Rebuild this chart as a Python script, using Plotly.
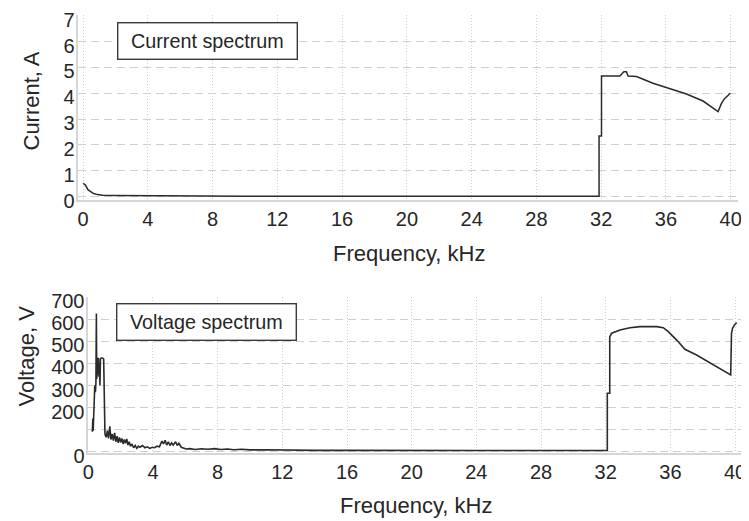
import plotly.graph_objects as go

W, H = 749, 521
OX, OY = 8, 8          # the page body adds an 8px margin
FW, FH = W - OX, H - OY

# ---- data ----
cur_freq = [0.0, 0.15, 0.3, 0.5, 0.65, 0.9, 1.2, 2.0, 3.0, 4.0, 5.0, 6.0, 7.0, 8.0, 10.0, 15.0, 20.0, 25.0,
            31.87, 31.87, 32.02, 32.02, 33.15, 33.4, 33.56, 33.66, 34.18, 35.2, 36.23, 37.27, 38.29, 38.91,
            39.22, 39.43, 39.63, 39.98]
cur_vals = [0.52, 0.45, 0.27, 0.17, 0.12, 0.08, 0.06, 0.05, 0.045, 0.04, 0.035, 0.04, 0.03, 0.025, 0.02, 0.02,
            0.02, 0.02, 0.02, 2.35, 2.35, 4.67, 4.67, 4.83, 4.83, 4.67, 4.65, 4.39, 4.19, 3.97, 3.70, 3.42,
            3.29, 3.61, 3.80, 4.00]

volt_freq = [0.25, 0.28, 0.30, 0.33, 0.36, 0.40, 0.44, 0.47, 0.50, 0.52, 0.54, 0.56, 0.60, 0.63, 0.66, 0.69,
             0.72, 0.75, 0.80, 0.88, 0.95, 0.98, 1.03, 1.10, 1.18, 1.25, 1.33, 1.40, 1.48, 1.55, 1.63, 1.70,
             1.78, 1.85, 1.93, 2.00, 2.08, 2.15, 2.23, 2.30, 2.38, 2.45, 2.53, 2.60, 2.70, 2.80, 2.90, 3.00,
             3.10, 3.20, 3.35, 3.50, 3.65, 3.80, 3.95, 4.10, 4.25, 4.40, 4.55, 4.65, 4.75, 4.85, 4.95, 5.05,
             5.15, 5.25, 5.40, 5.50, 5.60, 5.75, 5.90, 6.05, 6.30, 6.60, 7.00, 7.40, 7.80, 8.20, 8.60, 9.00,
             9.50, 10.0, 11.0, 12.0, 13.0, 14.0, 16.0, 18.0, 20.0, 24.0, 28.0, 32.1, 32.1, 32.25, 32.25,
             32.37, 32.88, 33.5, 34.12, 35.15, 35.56, 35.87, 36.39, 36.9, 37.62, 38.24, 39.07, 39.73, 39.78,
             39.85, 40.0, 40.1]
volt_vals = [90, 150, 95, 160, 265, 300, 270, 310, 627, 330, 620, 360, 420, 425, 340, 400,
             300, 420, 425, 425, 420, 300, 80, 65, 95, 60, 115, 55, 80, 50, 85, 45,
             70, 40, 65, 42, 60, 35, 55, 38, 58, 30, 45, 25, 35, 18, 28, 15,
             25, 20, 28, 18, 22, 15, 20, 18, 25, 22, 48, 35, 52, 30, 45, 28,
             40, 30, 45, 28, 38, 20, 15, 12, 14, 10, 13, 11, 14, 10, 12, 9,
             11, 8, 9, 7, 7, 6, 6, 5, 5, 5, 5, 5, 265, 265, 521,
             537, 552, 562, 567, 567, 562, 544, 506, 464, 438, 411, 378, 348, 537,
             560, 578, 585]

x_ticks = [0, 4, 8, 12, 16, 20, 24, 28, 32, 36, 40]
cur_ticks = [0, 1, 2, 3, 4, 5, 6, 7]
volt_ticks = [0, 100, 200, 300, 400, 500, 600, 700]
volt_ticktext = ["0", "", "200", "300", "400", "500", "600", "700"]

FONT = "Liberation Sans, Arial, sans-serif"
TXT = "#262626"
LINE = "#2b2b2b"
GRID = "#cfcfcf"
AX = "#d6d6d6"

fig = go.Figure()
fig.add_trace(go.Scatter(x=cur_freq, y=cur_vals, mode="lines", xaxis="x", yaxis="y",
                         line=dict(color=LINE, width=1.5), showlegend=False, hoverinfo="skip"))
fig.add_trace(go.Scatter(x=volt_freq, y=volt_vals, mode="lines", xaxis="x2", yaxis="y2",
                         line=dict(color=LINE, width=1.6), showlegend=False, hoverinfo="skip"))

def px_x(p):
    return (p - OX) / FW

def px_y(p):
    return (FH - (p - OY)) / FH

xcommon = dict(tickmode="array", tickvals=x_ticks, ticks="", showgrid=True, gridcolor=GRID,
               griddash="1px,2px", gridwidth=1, zeroline=False, showline=True, linecolor=AX,
               linewidth=2, tickfont=dict(family=FONT, size=20, color=TXT), fixedrange=True,
               automargin=False, ticklabelstandoff=0, ticklabeloverflow="allow")
ycommon = dict(tickmode="array", ticks="", showgrid=True, gridcolor=GRID, griddash="8px,5px",
               gridwidth=1, zeroline=False, showline=True, linecolor=AX, linewidth=2,
               tickfont=dict(family=FONT, size=20, color=TXT), fixedrange=True,
               automargin=False, ticklabelstandoff=-3, ticklabelshift=4,
               ticklabeloverflow="allow")

fig.update_layout(
    width=FW, height=FH, autosize=False,
    margin=dict(l=0, r=0, t=0, b=0),
    paper_bgcolor="white", plot_bgcolor="white",
    xaxis=dict(xcommon, domain=[px_x(77.7), px_x(738)], range=[-0.33, 40.45], anchor="y"),
    yaxis=dict(ycommon, domain=[px_y(200), px_y(15.2)], range=[-0.128, 7.02], tickvals=cur_ticks,
               anchor="x"),
    xaxis2=dict(xcommon, domain=[px_x(87.5), px_x(743.3)], range=[-0.05, 40.51], anchor="y2"),
    yaxis2=dict(ycommon, domain=[px_y(453), px_y(296.5)], range=[-6, 703.6], tickvals=volt_ticks,
                ticktext=volt_ticktext, anchor="x2", mirror=True),
)

ann_font = dict(family=FONT, size=22, color=TXT)
box_font = dict(family=FONT, size=19.8, color=TXT)
annotations = [
    dict(text="Frequency, kHz", x=px_x(409.5), y=px_y(253), xref="paper", yref="paper",
         showarrow=False, xanchor="center", yanchor="middle", font=ann_font),
    dict(text="Frequency, kHz", x=px_x(416), y=px_y(505.5), xref="paper", yref="paper",
         showarrow=False, xanchor="center", yanchor="middle", font=ann_font),
    dict(text="Current, A", x=px_x(30.5), y=px_y(101), xref="paper", yref="paper", textangle=-90,
         showarrow=False, xanchor="center", yanchor="middle", font=ann_font),
    dict(text="Voltage, V", x=px_x(26), y=px_y(356.5), xref="paper", yref="paper", textangle=-90,
         showarrow=False, xanchor="center", yanchor="middle", font=ann_font),
    dict(text="Current spectrum", x=px_x(207.5), y=px_y(40.5), xref="paper", yref="paper",
         showarrow=False, xanchor="center", yanchor="middle", width=174, height=31,
         bgcolor="white", bordercolor="#3a3a3a", borderwidth=1.4, borderpad=2, font=box_font),
    dict(text="Voltage spectrum", x=px_x(206.5), y=px_y(321.5), xref="paper", yref="paper",
         showarrow=False, xanchor="center", yanchor="middle", width=174, height=31,
         bgcolor="white", bordercolor="#3a3a3a", borderwidth=1.4, borderpad=2, font=box_font),
]
fig.update_layout(annotations=annotations)

fig.write_html("out.html", config={"displayModeBar": False})
